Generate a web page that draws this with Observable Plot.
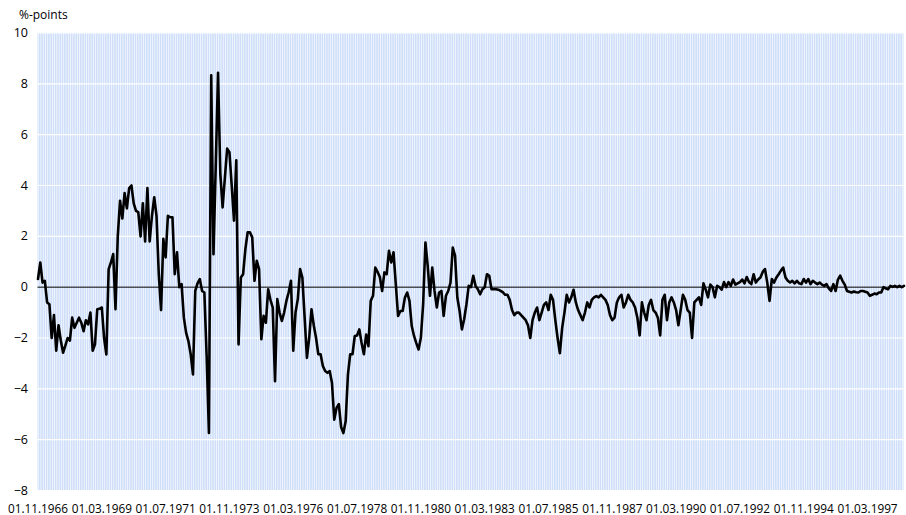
<!DOCTYPE html>
<html><head><meta charset="utf-8">
<script src="https://cdn.jsdelivr.net/npm/d3@7"></script>
<script src="https://cdn.jsdelivr.net/npm/@observablehq/plot@0.6"></script>
<style>
body{margin:0;background:#fff;font-family:"Open Sans",Lato,sans-serif;}
#wrap{position:relative;width:906px;height:515px;overflow:hidden;}
#unit{position:absolute;left:19px;top:9px;font-size:12px;line-height:1;color:#000;}
#wrap svg{position:absolute;left:0;top:0;overflow:visible;}
</style></head><body>
<div id="wrap"><div id="unit">%-points</div></div>
<script>
// Monthly values (percentage points), first month = 01.11.1966
const values = [
 0.32, 0.97, 0.18, 0.25, -0.6, -0.67, -2.0, -1.1, -2.5, -1.5,
 -2.1, -2.58, -2.3, -2.0, -2.1, -1.2, -1.6, -1.4, -1.2, -1.4,
 -1.73, -1.3, -1.46, -1.0, -2.5, -2.25, -0.87, -0.85, -0.8, -2.0,
 -2.65, 0.71, 0.97, 1.3, -0.87, 2.0, 3.4, 2.7, 3.7, 3.1,
 3.9, 4.0, 3.3, 3.0, 2.95, 2.0, 3.3, 1.8, 3.9, 1.8,
 2.8, 3.54, 2.81, 0.5, -0.9, 1.9, 1.17, 2.81, 2.75, 2.75,
 0.51, 1.37, 0.0, 0.12, -1.2, -1.8, -2.12, -2.64, -3.43, -0.15,
 0.15, 0.32, -0.15, -0.21, -2.7, -5.74, 8.34, 1.3, 4.8, 8.43,
 4.46, 3.14, 4.3, 5.45, 5.31, 4.0, 2.62, 4.99, -2.25, 0.38,
 0.51, 1.5, 2.16, 2.16, 1.96, 0.25, 1.04, 0.71, -2.05, -1.13,
 -1.4, -0.08, -0.5, -0.8, -3.7, -0.47, -1.0, -1.33, -1.0, -0.54,
 -0.2, 0.25, -2.5, -1.0, -0.47, 0.71, 0.38, -1.2, -2.78, -1.99,
 -0.87, -1.5, -1.99, -2.64, -2.64, -3.1, -3.3, -3.37, -3.3, -3.77,
 -5.21, -4.75, -4.6, -5.5, -5.74, -5.28, -3.43, -2.64, -2.64, -1.92,
 -1.9, -1.66, -2.2, -2.64, -1.86, -2.32, -0.54, -0.34, 0.77, 0.6,
 0.4, -0.15, 0.58, 0.51, 1.43, 0.97, 1.37, 0.12, -1.13, -0.94,
 -0.94, -0.41, -0.21, -0.54, -1.53, -1.92, -2.2, -2.45, -1.99, -0.67,
 1.76, 0.84, -0.34, 0.77, -0.15, -0.8, -0.21, -0.15, -1.13, -0.34,
 -0.15, 0.18, 1.56, 1.24, -0.41, -0.94, -1.66, -1.26, -0.67, 0.05,
 0.0, 0.45, 0.05, -0.08, -0.28, -0.08, 0.0, 0.51, 0.45, -0.08,
 -0.08, -0.08, -0.1, -0.15, -0.2, -0.3, -0.3, -0.5, -0.9, -1.1,
 -1.0, -1.0, -1.1, -1.2, -1.3, -1.5, -2.0, -1.3, -1.0, -0.8,
 -1.3, -1.0, -0.7, -0.6, -0.9, -0.3, -0.5, -1.3, -2.0, -2.6,
 -1.6, -1.0, -0.3, -0.6, -0.4, -0.1, -0.6, -0.9, -1.1, -1.3,
 -1.0, -0.6, -0.8, -0.5, -0.4, -0.35, -0.4, -0.3, -0.4, -0.5,
 -0.7, -1.1, -1.3, -1.2, -0.6, -0.4, -0.3, -0.8, -0.6, -0.3,
 -0.5, -0.6, -0.8, -1.2, -1.9, -0.6, -1.0, -1.3, -0.7, -0.5,
 -0.9, -1.0, -1.2, -1.9, -0.5, -0.3, -1.3, -0.6, -0.4, -0.6,
 -0.9, -1.5, -0.9, -0.3, -0.5, -0.9, -1.0, -2.0, -0.6, -0.5,
 -0.4, -0.7, 0.15, -0.1, -0.4, 0.1, 0.0, -0.4, 0.05, 0.0,
 -0.1, 0.2, 0.0, 0.2, 0.05, 0.3, 0.1, 0.15, 0.2, 0.3,
 0.15, 0.4, 0.2, 0.12, 0.51, 0.18, 0.3, 0.38, 0.6, 0.71,
 0.18, -0.54, 0.32, 0.18, 0.38, 0.51, 0.65, 0.77, 0.38, 0.25,
 0.18, 0.25, 0.15, 0.25, 0.15, 0.12, 0.32, 0.18, 0.32, 0.12,
 0.25, 0.18, 0.12, 0.18, 0.1, 0.05, 0.12, -0.05, -0.15, 0.12,
 -0.15, 0.3, 0.45, 0.25, 0.1, -0.15, -0.18, -0.21, -0.17, -0.2,
 -0.21, -0.15, -0.15, -0.18, -0.21, -0.34, -0.3, -0.25, -0.28, -0.21,
 -0.21, 0.0, -0.05, -0.08, 0.05, 0.01, 0.05, 0.0, 0.05, 0.0, 0.05
];
const tickLabels = ["01.11.1966","01.03.1969","01.07.1971","01.11.1973","01.03.1976","01.07.1978","01.11.1980","01.03.1983","01.07.1985","01.11.1987","01.03.1990","01.07.1992","01.11.1994","01.03.1997"];
const tickStep = 28; // months between labels
const yTicks = [-8, -6, -4, -2, 0, 2, 4, 6, 8, 10];
const yDomain = [-8, 10];

const months = values.map((v, i) => i);
const xTicks = tickLabels.map((t, k) => k * tickStep);
const series = values.map((v, i) => ({i, v}));

const chart = Plot.plot({
  width: 906,
  height: 515,
  marginLeft: 37.5,
  marginRight: 2.5,
  marginTop: 32.5,
  marginBottom: 25,
  style: {fontFamily: "'Open Sans', Lato, sans-serif", fontSize: "11.8px", color: "#000", background: "transparent"},
  x: {type: "linear", domain: [0, values.length - 1]},
  y: {domain: yDomain},
  marks: [
    Plot.rect(months, {x1: i => i - 0.5, x2: i => i + 0.5, y1: yDomain[0], y2: yDomain[1], fill: "#cfdff9", insetLeft: 0.3, insetRight: 0.3, clip: true}),
    Plot.ruleY(yTicks.filter(d => d !== 0), {stroke: "#fff", strokeWidth: 1.2}),
    Plot.ruleY([0], {stroke: "#000", strokeWidth: 1}),
    Plot.lineY(series, {x: "i", y: "v", stroke: "#000", strokeWidth: 2.6, strokeLinejoin: "round", strokeLinecap: "round"}),
    Plot.axisY(yTicks, {tickSize: 0, tickPadding: 10, label: null, fontSize: 12.5}),
    Plot.axisX(xTicks, {tickSize: 0, tickPadding: 14, label: null, fontSize: 11.8, tickFormat: d => tickLabels[d / tickStep]})
  ]
});
document.getElementById("wrap").appendChild(chart);
</script>
</body></html>
